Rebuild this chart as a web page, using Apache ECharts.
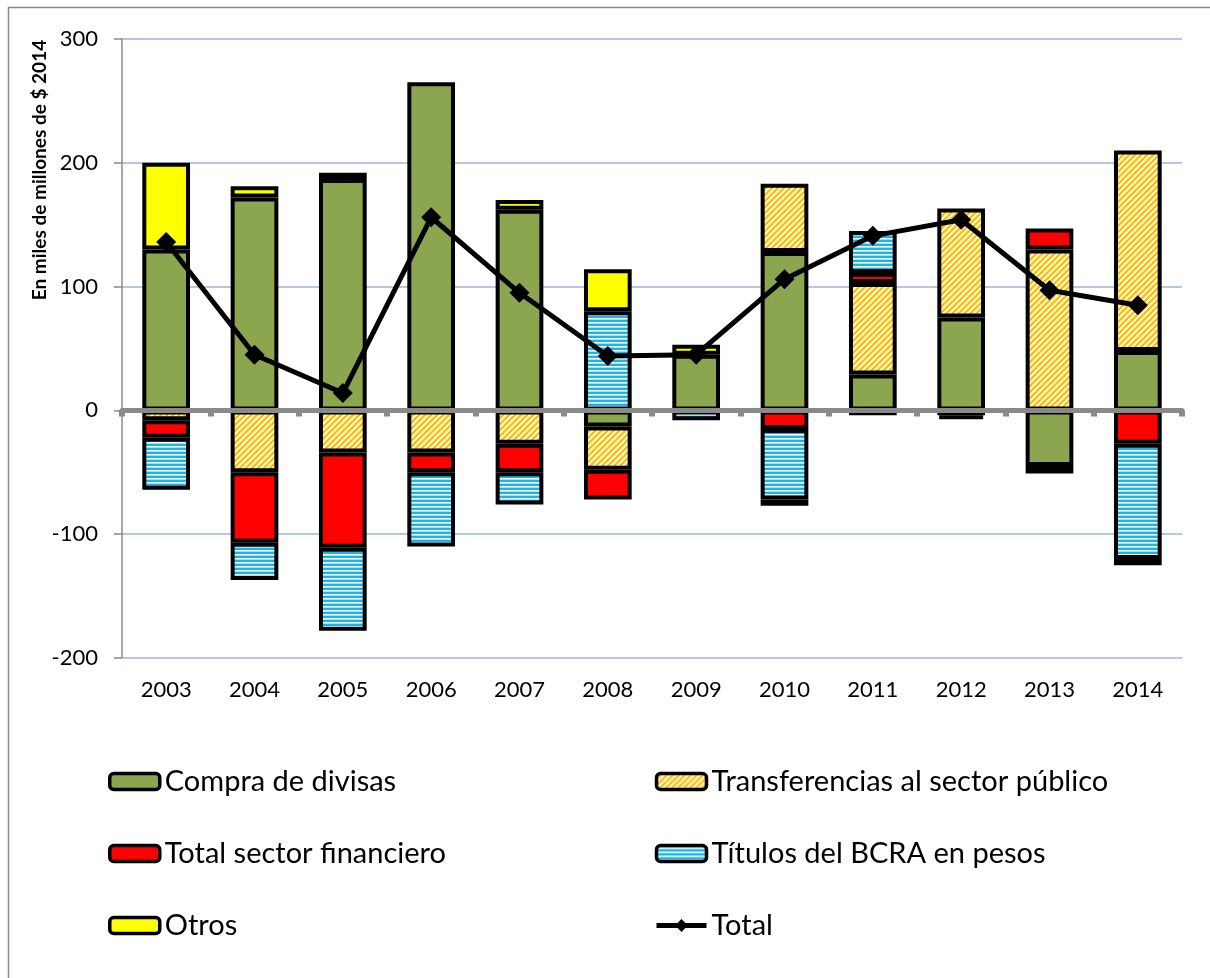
<!DOCTYPE html>
<html lang="es">
<head>
    <meta charset="UTF-8">
    <title>Fuentes de expansión monetaria</title>
    <script src="https://cdn.jsdelivr.net/npm/echarts@6/dist/echarts.min.js"></script>
    <style>
        body { margin: 0; padding: 0; background: #fff; }
        #main { width: 1210px; height: 978px; }
    </style>
</head>
<body>
    <div id="main"></div>
    <script>
        // datos (miles de millones de $ 2014)
        const years = ['2003', '2004', '2005', '2006', '2007', '2008', '2009', '2010', '2011', '2012', '2013', '2014'];
        const compra = [130, 172, 187, 265, 162, -13, 45, 128, 29, 75, -45, 48];
        const transferencias = [-8, -50, -34, -34, -27, -35, '-', 55, 74, 88, 130, 162];
        const financiero = [-14, -57, -77, -16, -23, -24, '-', -15, 8, '-', 17, -27];
        const titulos = [-42, -30, -67, -60, -26, 80, -8, -57, 34, -4, -6, -93];
        const otros = [70, 9, 5, '-', 8, 34, 8, -5, -4, -3, '-', -5];
        const total = [136, 45, 14, 156, 95, 44, 45, 106, 141, 154, 97, 85];
        const yTicks = { min: -200, max: 300, interval: 100 };

        const FONT = 'Lato, "Open Sans", sans-serif';

        // tramas: rayas diagonales naranjas y rayas horizontales celestes
        function diagPattern() {
            const c = document.createElement('canvas');
            c.width = 6; c.height = 6;
            const g = c.getContext('2d');
            g.fillStyle = '#fff'; g.fillRect(0, 0, 6, 6);
            g.strokeStyle = '#FFC000'; g.lineWidth = 2.4;
            g.beginPath();
            g.moveTo(-3, 3); g.lineTo(3, -3);
            g.moveTo(0, 6); g.lineTo(6, 0);
            g.moveTo(3, 9); g.lineTo(9, 3);
            g.stroke();
            return { image: c, repeat: 'repeat' };
        }
        function hStripePattern() {
            const c = document.createElement('canvas');
            c.width = 4; c.height = 4;
            const g = c.getContext('2d');
            const rows = ['#18B4EE', '#18B4EE', '#FFFFFF', '#9EE0F8'];
            rows.forEach((col, i) => { g.fillStyle = col; g.fillRect(0, i, 4, 1); });
            return { image: c, repeat: 'repeat' };
        }

        const border = { borderColor: '#000', borderWidth: 4 };
        function barSeries(name, data, color) {
            return {
                name: name, type: 'bar', stack: 'total', data: data,
                barWidth: '54%',
                itemStyle: Object.assign({ color: color }, border),
                emphasis: { disabled: true }
            };
        }

        const chart = echarts.init(document.getElementById('main'), null, { renderer: 'canvas' });
        const legendText = { fontSize: 29, color: '#000', fontFamily: FONT };
        const legendIcon = { borderColor: '#000', borderWidth: 3.5 };
        const option = {
            animation: false,
            grid: { left: 122, right: 28, top: 39, bottom: 320 },
            xAxis: [
                {
                    type: 'category', data: years, position: 'bottom',
                    axisLine: { show: false, onZero: false },
                    axisTick: { show: false },
                    axisLabel: { fontSize: 22, color: '#000', fontFamily: FONT, margin: 21 }
                },
                {
                    type: 'category', data: years, position: 'bottom', z: 10,
                    axisLine: { show: true, onZero: true, lineStyle: { color: '#8A8A8A', width: 5 } },
                    axisTick: { show: true, length: 6, lineStyle: { color: '#8A8A8A', width: 6 } },
                    axisLabel: { show: false }
                }
            ],
            yAxis: {
                type: 'value', min: yTicks.min, max: yTicks.max, interval: yTicks.interval,
                axisLine: { show: true, lineStyle: { color: '#8A8A8A', width: 1.5 } },
                axisTick: { show: true, length: 8, lineStyle: { color: '#8A8A8A', width: 1.5 } },
                axisLabel: { fontSize: 22, color: '#000', fontFamily: FONT, margin: 24 },
                splitLine: { lineStyle: { color: '#B4C7E7', width: 2 } }
            },
            legend: [
                {
                    left: 103, top: 762, orient: 'vertical', itemGap: 43,
                    itemWidth: 50, itemHeight: 16, textStyle: legendText,
                    itemStyle: legendIcon,
                    data: ['Compra de divisas', 'Total sector financiero', 'Otros']
                },
                {
                    left: 649, top: 762, orient: 'vertical', itemGap: 43,
                    itemWidth: 50, itemHeight: 16, textStyle: legendText,
                    data: [
                        { name: 'Transferencias al sector público', itemStyle: legendIcon },
                        { name: 'Títulos del BCRA en pesos', itemStyle: legendIcon },
                        { name: 'Total', lineStyle: { width: 5 } }
                    ]
                }
            ],
            graphic: [
                {
                    type: 'rect', silent: true,
                    shape: { x: 8.5, y: 7.5, width: 1400, height: 1400 },
                    style: { fill: 'none', stroke: '#8A8A8A', lineWidth: 1.5 }
                },
                {
                    type: 'text', x: 40, y: 170, rotation: Math.PI / 2,
                    style: {
                        text: 'En miles de millones de $ 2014', fill: '#000',
                        font: 'bold 19px ' + FONT, align: 'center', verticalAlign: 'middle'
                    }
                }
            ],
            series: [
                barSeries('Compra de divisas', compra, '#8BA64F'),
                barSeries('Transferencias al sector público', transferencias, diagPattern()),
                barSeries('Total sector financiero', financiero, '#FF0000'),
                barSeries('Títulos del BCRA en pesos', titulos, hStripePattern()),
                barSeries('Otros', otros, '#FFFF00'),
                {
                    name: 'Total', type: 'line', data: total, z: 20,
                    symbol: 'diamond', symbolSize: 20,
                    lineStyle: { color: '#000', width: 5 },
                    itemStyle: { color: '#000' },
                    emphasis: { disabled: true }
                }
            ]
        };
        chart.setOption(option);
    </script>
</body>
</html>
